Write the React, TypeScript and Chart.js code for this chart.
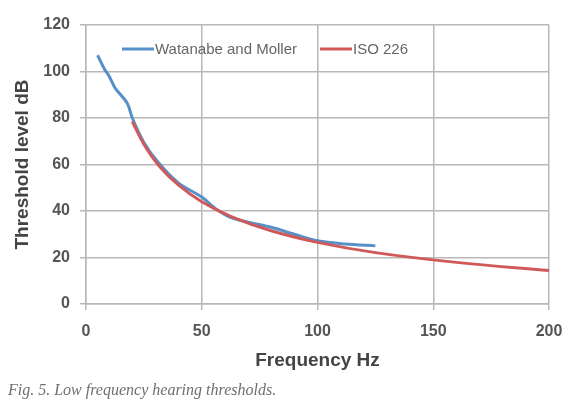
import React, { useEffect, useRef } from "react";
import { Chart, registerables } from "chart.js";

Chart.register(...registerables);

const watanabeFreq = [5, 8, 10, 12.5, 15, 18, 20, 25, 31.5, 40, 50, 56, 63, 71, 80, 90, 100, 112, 125];
const watanabeLevel = [107, 101, 98, 93, 90, 86, 80, 69.5, 60.5, 52, 46, 41, 37, 35, 33, 30, 27.2, 25.8, 25];

const isoFreq = [20, 25, 31.5, 40, 50, 63, 80, 100, 125, 160, 200];
const isoLevel = [78.5, 68.7, 59.5, 51.1, 44.0, 37.5, 31.5, 26.5, 22.1, 17.9, 14.4];

const xTicks = [0, 50, 100, 150, 200];
const yTicks = [0, 20, 40, 60, 80, 100, 120];

const seriesNames = ["Watanabe and Moller", "ISO 226"];
const caption = "Fig. 5. Low frequency hearing thresholds.";

const BLUE = "#5590c8";
const RED = "#d05a5a";
const GRID = "#b8b8b8";
const TICK = "#555555";
const FONT = "'Liberation Sans', Arial, sans-serif";

export default function App() {
  const ref = useRef<HTMLCanvasElement | null>(null);

  useEffect(() => {
    document.body.style.margin = "0";
    const canvas = ref.current;
    if (!canvas) return;

    const overlay = {
      id: "overlay",
      afterDraw(chart: any) {
        const { ctx, chartArea } = chart;
        ctx.save();
        const ly = chartArea.top + 24;
        const items = [
          { x: 122, color: BLUE, text: seriesNames[0] },
          { x: 320, color: RED, text: seriesNames[1] },
        ];
        ctx.font = `15px ${FONT}`;
        ctx.textBaseline = "middle";
        ctx.textAlign = "left";
        for (const it of items) {
          ctx.strokeStyle = it.color;
          ctx.lineWidth = 3;
          ctx.beginPath();
          ctx.moveTo(it.x, ly);
          ctx.lineTo(it.x + 32, ly);
          ctx.stroke();
          ctx.fillStyle = "#666666";
          ctx.fillText(it.text, it.x + 33, ly + 1);
        }
        ctx.font = "italic 16px 'Liberation Serif', 'DejaVu Serif', serif";
        ctx.fillStyle = "#6f6f6f";
        ctx.textBaseline = "alphabetic";
        ctx.fillText(caption, 8, 395);
        ctx.restore();
      },
    };

    const chart = new Chart(canvas, {
      type: "line",
      data: {
        datasets: [
          {
            label: seriesNames[1],
            data: isoFreq.map((f, i) => ({ x: f, y: isoLevel[i] })),
            borderColor: RED,
            borderWidth: 3,
            pointRadius: 0,
            tension: 0.4,
            fill: false,
          },
          {
            label: seriesNames[0],
            data: watanabeFreq.map((f, i) => ({ x: f, y: watanabeLevel[i] })),
            borderColor: BLUE,
            borderWidth: 3,
            pointRadius: 0,
            tension: 0.3,
            fill: false,
          },
        ],
      },
      options: {
        animation: false,
        responsive: false,
        maintainAspectRatio: false,
        layout: { padding: { left: 11, right: 18, top: 25, bottom: 28 } },
        plugins: {
          legend: { display: false },
          tooltip: { enabled: false },
        },
        scales: {
          x: {
            type: "linear",
            min: 0,
            max: 200,
            afterBuildTicks: (s: any) => {
              s.ticks = xTicks.map((v) => ({ value: v }));
            },
            afterFit: (s: any) => {
              s.height = 68;
              s.paddingLeft = 0;
              s.paddingRight = 0;
            },
            grid: { color: GRID, lineWidth: 1.5, tickLength: 6, drawTicks: true },
            border: { color: GRID, width: 1.5 },
            ticks: {
              color: TICK,
              padding: 12,
              maxRotation: 0,
              font: { family: FONT, size: 16, weight: "bold" },
            },
            title: {
              display: true,
              text: "Frequency Hz",
              color: "#444444",
              padding: 0,
              font: { family: FONT, size: 19, weight: "bold" },
            },
          },
          y: {
            type: "linear",
            min: 0,
            max: 120,
            afterBuildTicks: (s: any) => {
              s.ticks = yTicks.map((v) => ({ value: v }));
            },
            afterFit: (s: any) => {
              s.width = 75;
              s.paddingTop = 0;
              s.paddingBottom = 0;
            },
            grid: { color: GRID, lineWidth: 1.5, tickLength: 6, drawTicks: true },
            border: { color: GRID, width: 1.5 },
            ticks: {
              color: TICK,
              padding: 10,
              font: { family: FONT, size: 16, weight: "bold" },
            },
            title: {
              display: true,
              text: "Threshold level dB",
              color: "#444444",
              padding: 0,
              font: { family: FONT, size: 19, weight: "bold" },
            },
          },
        },
      },
      plugins: [overlay],
    });

    return () => chart.destroy();
  }, []);

  return (
    <div style={{ width: 567, height: 400, background: "#ffffff" }}>
      <canvas ref={ref} width={567} height={400} style={{ display: "block" }} />
    </div>
  );
}
